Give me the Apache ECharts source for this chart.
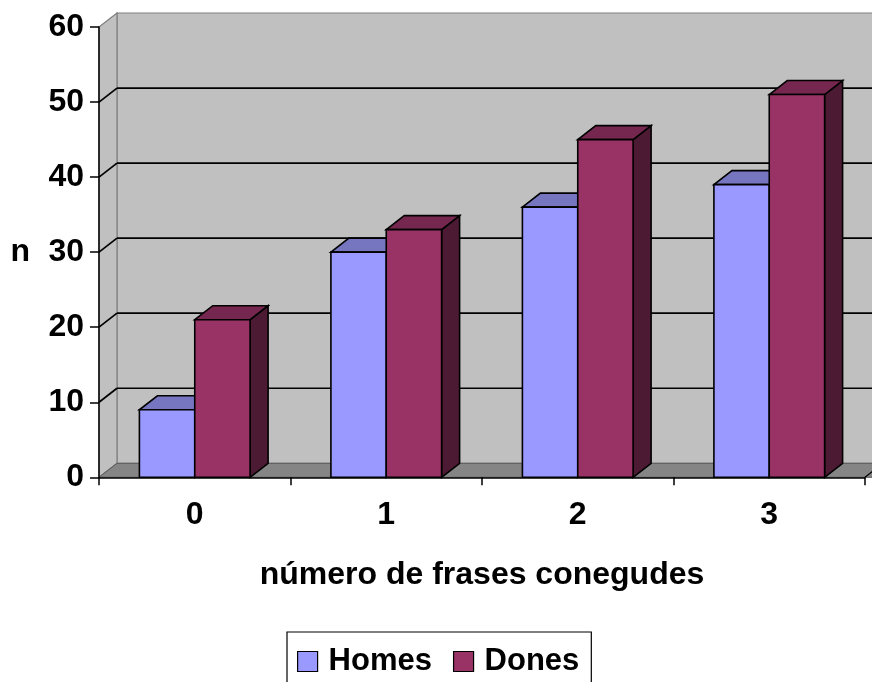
<!DOCTYPE html>
<html>
<head>
<meta charset="utf-8">
<script src="https://cdn.jsdelivr.net/npm/echarts@6/dist/echarts.min.js"></script>
<style>
  html, body { margin: 0; padding: 0; background: #ffffff; }
  #chart { width: 872px; height: 682px; }
</style>
</head>
<body>
<div id="chart"></div>
<script>
// Categories and values
var categories = ['0', '1', '2', '3'];
var homes = [9, 30, 36, 39];
var dones = [21, 33, 45, 51];
var valueTicks = [0, 10, 20, 30, 40, 50, 60];

// Depth offset of the 3D box (walls and bar tops/sides)
var DX = 18, DY = -14;
var FONT = 'Liberation Sans, Arial, sans-serif';
var BAR_RATIO = 0.289;

var chart = echarts.init(document.getElementById('chart'), null, { renderer: 'canvas' });

// Back wall, left wall and floor
function renderBackdrop(params, api) {
  var cs = params.coordSys;
  var x0 = cs.x, x1 = cs.x + cs.width;
  var yTop = api.coord([0, api.value(1)])[1];
  var yBase = api.coord([0, api.value(0)])[1];
  var wallStyle = { fill: '#C0C0C0', stroke: '#808080', lineWidth: 1.2 };
  return {
    type: 'group',
    children: [
      { type: 'polygon', shape: { points: [[x0 + DX, yTop + DY], [x1 + DX + 20, yTop + DY], [x1 + DX + 20, yBase + DY], [x0 + DX, yBase + DY]] }, style: wallStyle },
      { type: 'polygon', shape: { points: [[x0, yTop], [x0 + DX, yTop + DY], [x0 + DX, yBase + DY], [x0, yBase]] }, style: wallStyle },
      { type: 'polygon', shape: { points: [[x0, yBase], [x0 + DX, yBase + DY], [x1 + DX + 20, yBase + DY], [x1 + 20, yBase]] }, style: { fill: '#858585', stroke: '#5a5a5a', lineWidth: 1 } },
      { type: 'line', shape: { x1: x1, y1: yBase, x2: x1 + DX, y2: yBase + DY }, style: { stroke: '#000', lineWidth: 1.2 } }
    ]
  };
}

// Gridlines on the back wall plus their connectors across the left wall
function renderGridline(params, api) {
  var v = api.value(0);
  if (v <= valueTicks[0] || v >= valueTicks[valueTicks.length - 1]) return null;
  var cs = params.coordSys;
  var x0 = cs.x, x1 = cs.x + cs.width;
  var y = api.coord([0, v])[1];
  return {
    type: 'group',
    children: [
      { type: 'line', shape: { x1: x0, y1: y, x2: x0 + DX, y2: y + DY }, style: { stroke: '#000', lineWidth: 1.7 } },
      { type: 'line', shape: { x1: x0 + DX, y1: y + DY, x2: x1 + DX + 20, y2: y + DY }, style: { stroke: '#000', lineWidth: 1.7 } }
    ]
  };
}

function makeBarRenderer(offsetIndex, front, top, side) {
  return function (params, api) {
    var c = api.coord([api.value(0), api.value(1)]);
    var base = api.coord([api.value(0), 0]);
    var w = api.size([1, 0])[0] * BAR_RATIO;
    var x = c[0] - w + offsetIndex * w;
    var yT = c[1], yB = base[1];
    var edge = { stroke: '#000', lineWidth: 1.6, lineJoin: 'miter' };
    return {
      type: 'group',
      children: [
        { type: 'polygon', shape: { points: [[x + w, yT], [x + w + DX, yT + DY], [x + w + DX, yB + DY], [x + w, yB]] }, style: Object.assign({ fill: side }, edge) },
        { type: 'polygon', shape: { points: [[x, yT], [x + DX, yT + DY], [x + w + DX, yT + DY], [x + w, yT]] }, style: Object.assign({ fill: top }, edge) },
        { type: 'rect', shape: { x: x, y: yT, width: w, height: yB - yT }, style: Object.assign({ fill: front }, edge) }
      ]
    };
  };
}

var option = {
  animation: false,
  backgroundColor: '#ffffff',
  grid: { left: 99, right: 7, top: 27, bottom: 204.7 },
  xAxis: {
    type: 'category',
    data: categories,
    boundaryGap: true,
    name: 'número de frases conegudes',
    nameLocation: 'middle',
    nameGap: 82,
    nameTextStyle: { fontFamily: FONT, fontWeight: 'bold', fontSize: 32, color: '#000' },
    axisLine: { show: true, lineStyle: { color: '#000', width: 1.5 } },
    axisTick: { show: true, length: 8, lineStyle: { color: '#000', width: 1.5 } },
    axisLabel: { margin: 22, fontFamily: FONT, fontWeight: 'bold', fontSize: 32, color: '#000' },
    splitLine: { show: false }
  },
  yAxis: {
    type: 'value',
    min: 0, max: 60, interval: 10,
    name: 'n',
    nameLocation: 'middle',
    nameRotate: 0,
    nameGap: 69,
    nameTextStyle: { fontFamily: FONT, fontWeight: 'bold', fontSize: 32, color: '#000' },
    axisLine: { show: true, lineStyle: { color: '#000', width: 1.5 } },
    axisTick: { show: true, length: 9, lineStyle: { color: '#000', width: 1.5 } },
    axisLabel: { margin: 15, fontFamily: FONT, fontWeight: 'bold', fontSize: 32, color: '#000' },
    splitLine: { show: false }
  },
  legend: {
    data: ['Homes', 'Dones'],
    left: 287, top: 632,
    orient: 'horizontal',
    padding: [14, 12, 14, 10],
    itemWidth: 20, itemHeight: 20,
    itemGap: 21,
    icon: 'rect',
    borderColor: '#000', borderWidth: 1.2, borderRadius: 0,
    backgroundColor: '#ffffff',
    itemStyle: { borderColor: '#000', borderWidth: 1.2 },
    textStyle: { fontFamily: FONT, fontWeight: 'bold', fontSize: 31, color: '#000', padding: [0, 0, 0, 6] },
    selectedMode: false
  },
  series: [
    {
      name: 'backdrop', type: 'custom', silent: true, z: 0,
      data: [[valueTicks[0], valueTicks[valueTicks.length - 1]]],
      renderItem: renderBackdrop
    },
    {
      name: 'gridlines', type: 'custom', silent: true, z: 1,
      data: valueTicks.map(function (v) { return [v]; }),
      renderItem: renderGridline
    },
    {
      name: 'Homes', type: 'custom', z: 2,
      itemStyle: { color: '#9999FF', borderColor: '#000', borderWidth: 1.2 },
      data: categories.map(function (c, i) { return [i, homes[i]]; }),
      encode: { x: 0, y: 1 },
      renderItem: makeBarRenderer(0, '#9999FF', '#7575C0', '#5C5C99')
    },
    {
      name: 'Dones', type: 'custom', z: 3,
      itemStyle: { color: '#993366', borderColor: '#000', borderWidth: 1.2 },
      data: categories.map(function (c, i) { return [i, dones[i]]; }),
      encode: { x: 0, y: 1 },
      renderItem: makeBarRenderer(1, '#993366', '#75274F', '#4D1A33')
    }
  ]
};

chart.setOption(option);
</script>
</body>
</html>
